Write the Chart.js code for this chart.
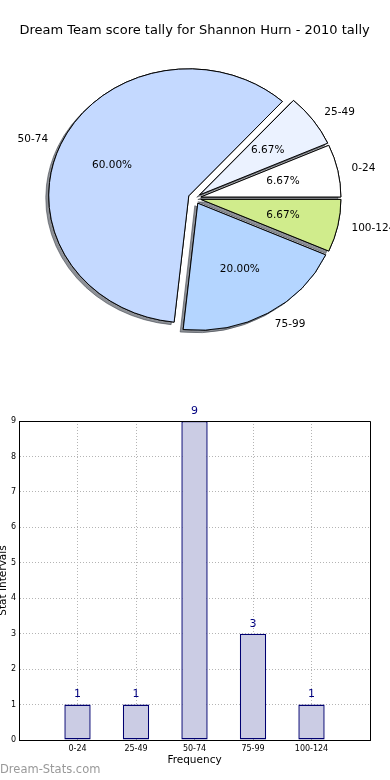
<!DOCTYPE html>
<html>
<head>
<meta charset="utf-8">
<script src="https://cdn.jsdelivr.net/npm/chart.js@4.4.1/dist/chart.umd.min.js"></script>
<style>
  html, body { margin: 0; padding: 0; background: #fff; }
  body { width: 390px; height: 780px; position: relative; overflow: hidden; }
  .box { position: absolute; left: 0; width: 390px; height: 390px; }
  #pieBox { top: 0; }
  #barBox { top: 390px; }
</style>
</head>
<body>
<div class="box" id="pieBox"><canvas id="pie" width="390" height="390"></canvas></div>
<div class="box" id="barBox"><canvas id="bar" width="390" height="390"></canvas></div>
<script>
const chartTitle = 'Dream Team score tally for Shannon Hurn - 2010 tally';
const categories = ['0-24', '25-49', '50-74', '75-99', '100-124'];
const counts = [1, 1, 9, 3, 1];
const yTicks = [0, 1, 2, 3, 4, 5, 6, 7, 8, 9];

// styling for the pie (same order as categories)
const sliceColors = ['#ffffff', '#ebf2ff', '#c4d9ff', '#b4d5ff', '#d0ec8c'];
const EXPLODE = 6.4;        // px, every wedge pulled out the same
const SQUASH = 127 / 140;   // pie is drawn as an ellipse

Chart.defaults.font.family = "'DejaVu Sans', sans-serif";
Chart.defaults.color = '#000';

// matplotlib draws counter-clockwise from 3 o'clock, chart.js goes clockwise
const pieCats = categories.slice().reverse();
const pieVals = counts.slice().reverse();
const pieCols = sliceColors.slice().reverse();
const total = counts.reduce((a, b) => a + b, 0);

const piePainter = {
    id: 'piePainter',
    beforeDatasetsDraw(chart) {
        const ctx = chart.ctx;
        const arcs = chart.getDatasetMeta(0).data;
        const cx = arcs[0].x, cy = arcs[0].y;
        ctx.save();
        ctx.translate(cx, cy);
        ctx.scale(1, SQUASH);
        ctx.translate(-cx, -cy);
        const pass = (shadow) => arcs.forEach(arc => {
            const mid = (arc.startAngle + arc.endAngle) / 2;
            ctx.save();
            ctx.translate(Math.cos(mid) * EXPLODE, Math.sin(mid) * EXPLODE);
            if (shadow) {
                ctx.shadowColor = 'rgba(50,55,65,0.55)';
                ctx.shadowOffsetX = -3;
                ctx.shadowOffsetY = 2.5;
            }
            arc.draw(ctx);
            ctx.restore();
        });
        pass(true);
        pass(false);
        ctx.restore();
        return false;
    },
    afterDraw(chart) {
        const ctx = chart.ctx;
        const arcs = chart.getDatasetMeta(0).data;
        ctx.save();
        ctx.fillStyle = '#000';
        ctx.font = "10.5px 'DejaVu Sans'";
        ctx.textBaseline = 'middle';
        arcs.forEach((arc, i) => {
            const mid = (arc.startAngle + arc.endAngle) / 2;
            const R = arc.outerRadius, e = EXPLODE;
            const ux = Math.cos(mid), uy = Math.sin(mid);
            ctx.textAlign = ux >= 0 ? 'left' : 'right';
            ctx.fillText(pieCats[i], arc.x + ux * (e + 1.1 * R), arc.y + uy * (e + 1.1 * R) * SQUASH);
            ctx.textAlign = 'center';
            const pct = (pieVals[i] / total * 100).toFixed(2) + '%';
            ctx.fillText(pct, arc.x + ux * (e + 0.6 * R), arc.y + uy * (e + 0.6 * R) * SQUASH);
        });
        ctx.restore();
    }
};

new Chart(document.getElementById('pie'), {
    type: 'pie',
    data: {
        labels: pieCats,
        datasets: [{
            data: pieVals,
            backgroundColor: pieCols,
            borderColor: '#000',
            borderWidth: 1
        }]
    },
    options: {
        responsive: false,
        animation: false,
        events: [],
        rotation: 90,
        radius: 140,
        layout: { padding: { left: 0, right: 0.8, top: 0, bottom: 42.2 } },
        plugins: {
            legend: { display: false },
            tooltip: { enabled: false },
            title: {
                display: true,
                text: chartTitle,
                color: '#000',
                font: { size: 13, weight: 'normal' },
                padding: { top: 23, bottom: 10 }
            }
        }
    },
    plugins: [piePainter]
});

const barExtras = {
    id: 'barExtras',
    afterDatasetsDraw(chart) {
        const ctx = chart.ctx;
        const bars = chart.getDatasetMeta(0).data;
        ctx.save();
        ctx.fillStyle = '#000080';
        ctx.font = "11px 'DejaVu Sans'";
        ctx.textAlign = 'center';
        ctx.textBaseline = 'middle';
        bars.forEach((b, i) => ctx.fillText(String(counts[i]), b.x, b.y - 10));
        ctx.restore();
    },
    afterDraw(chart) {
        const ctx = chart.ctx;
        const a = chart.chartArea;
        ctx.save();
        ctx.strokeStyle = '#000';
        ctx.lineWidth = 1;
        ctx.beginPath();
        ctx.moveTo(Math.round(a.left) + 0.5, Math.round(a.top) + 0.5);
        ctx.lineTo(Math.round(a.right) + 0.5, Math.round(a.top) + 0.5);
        ctx.lineTo(Math.round(a.right) + 0.5, Math.round(a.bottom) + 0.5);
        ctx.stroke();
        // site watermark
        ctx.fillStyle = '#999999';
        ctx.font = "11.5px 'DejaVu Sans'";
        ctx.textAlign = 'left';
        ctx.textBaseline = 'middle';
        ctx.fillText('Dream-Stats.com', 0, 380.5);
        ctx.restore();
    }
};

new Chart(document.getElementById('bar'), {
    type: 'bar',
    data: {
        datasets: [{
            data: categories.map((c, i) => ({ x: i, y: counts[i] })),
            backgroundColor: '#cbcce4',
            borderColor: '#000070',
            borderWidth: 1.4,
            borderSkipped: false,
            categoryPercentage: 1,
            barPercentage: 0.45
        }]
    },
    options: {
        responsive: false,
        animation: false,
        events: [],
        layout: { padding: { left: 0, right: 20, top: 31, bottom: 13 } },
        plugins: { legend: { display: false }, tooltip: { enabled: false } },
        scales: {
            x: {
                type: 'linear',
                min: -1,
                max: categories.length,
                offset: false,
                z: 1,
                grid: { offset: false, color: '#b4b4b4', drawTicks: false },
                border: { color: '#000', width: 1, dash: [1, 2] },
                ticks: {
                    stepSize: 1,
                    autoSkip: false,
                    maxRotation: 0,
                    padding: 4,
                    font: { size: 8 },
                    callback: v => categories[v] || ''
                },
                title: { display: true, text: 'Frequency', font: { size: 10.5 }, padding: 0 },
                afterFit(s) { s.height = 27; }
            },
            y: {
                min: yTicks[0],
                max: yTicks[yTicks.length - 1],
                z: 1,
                grid: { color: '#b4b4b4', drawTicks: false },
                border: { color: '#000', width: 1, dash: [1, 2] },
                afterBuildTicks(s) { s.ticks = yTicks.map(v => ({ value: v })); },
                ticks: { padding: 3, font: { size: 8 } },
                title: { display: true, text: 'Stat Intervals', font: { size: 10.5 }, padding: { top: -3, bottom: 0 } },
                afterFit(s) { s.width = 19; }
            }
        }
    },
    plugins: [barExtras]
});
</script>
</body>
</html>
